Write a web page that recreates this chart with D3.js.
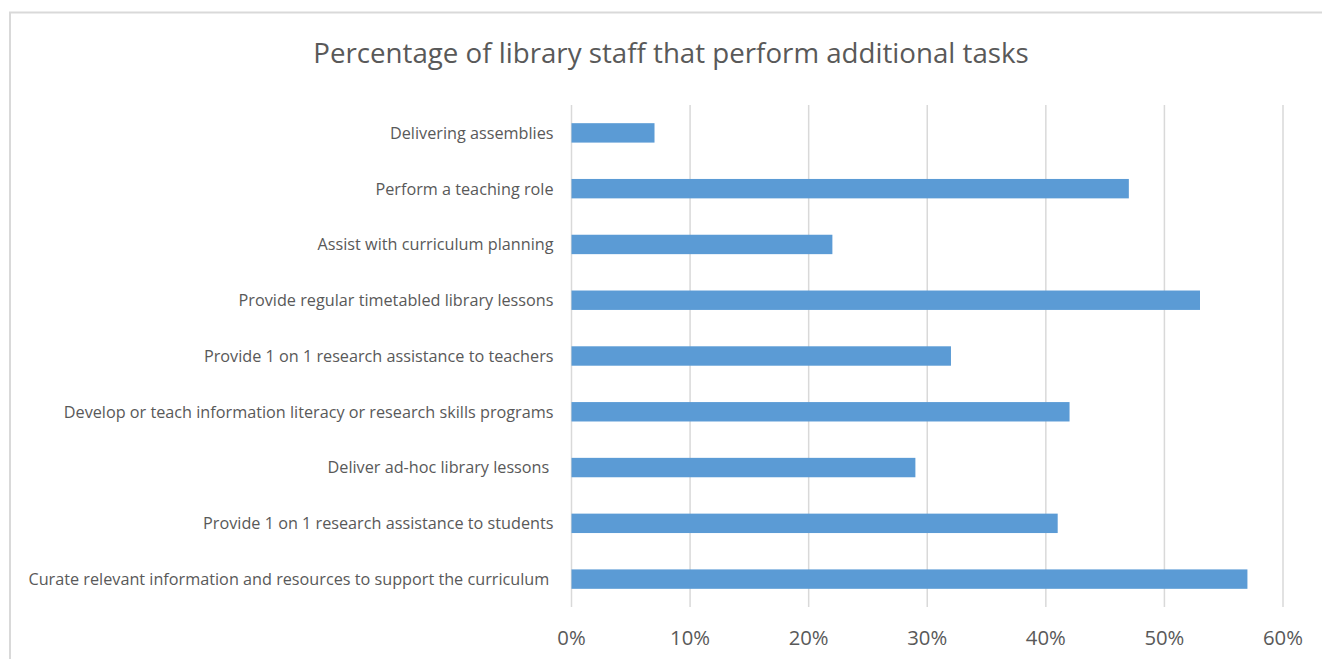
<!DOCTYPE html>
<html>
<head>
<meta charset="utf-8">
<script src="https://cdn.jsdelivr.net/npm/d3@7"></script>
<style>
  html, body { margin: 0; padding: 0; background: #fff; }
  svg { display: block; }
  text { font-family: "Open Sans", "Noto Sans", sans-serif; fill: #595959; }
</style>
</head>
<body>
<script>
// Tasks, listed top to bottom as they appear on the chart
const tasks = [
  "Delivering assemblies",
  "Perform a teaching role",
  "Assist with curriculum planning",
  "Provide regular timetabled library lessons",
  "Provide 1 on 1 research assistance to teachers",
  "Develop or teach information literacy or research skills programs",
  "Deliver ad-hoc library lessons ",
  "Provide 1 on 1 research assistance to students",
  "Curate relevant information and resources to support the curriculum "
];
// Share of library staff performing each task
const shares = [0.07, 0.47, 0.22, 0.53, 0.32, 0.42, 0.29, 0.41, 0.57];
const tickValues = [0, 0.1, 0.2, 0.3, 0.4, 0.5, 0.6];
const titleText = "Percentage of library staff that perform additional tasks";

const W = 1322, H = 659;
const plot = { left: 571.5, right: 1283, top: 105, bottom: 607 };

const svg = d3.select("body").append("svg").attr("width", W).attr("height", H);

// chart frame
svg.append("rect")
  .attr("x", 10).attr("y", 12.5)
  .attr("width", W + 20).attr("height", H + 20)
  .attr("fill", "#fff").attr("stroke", "#d9d9d9").attr("stroke-width", 2);

const x = d3.scaleLinear().domain([0, 0.6]).range([plot.left, plot.right]);
const y = d3.scaleBand().domain(tasks).range([plot.top, plot.bottom])
  .paddingInner(0.652).paddingOuter(0.326);

// scale a font size so a reference string spans a given width
function fitSize(str, targetWidth, base) {
  const t = svg.append("text").attr("font-size", base).text(str);
  const w = t.node().getComputedTextLength();
  t.remove();
  return base * targetWidth / w;
}

const labelSize = fitSize(tasks[5], 490, 16);
const tickSize = fitSize("60%", 40, 18);
const titleSize = fitSize(titleText, 716, 26);

// vertical gridlines
svg.append("g").selectAll("line").data(tickValues).join("line")
  .attr("x1", d => x(d)).attr("x2", d => x(d))
  .attr("y1", plot.top).attr("y2", plot.bottom)
  .attr("stroke", "#d9d9d9").attr("stroke-width", 1.5);

// bars
svg.append("g").selectAll("rect").data(tasks).join("rect")
  .attr("x", x(0))
  .attr("y", d => y(d))
  .attr("width", (d, i) => x(shares[i]) - x(0))
  .attr("height", y.bandwidth())
  .attr("fill", "#5b9bd5");

// category labels
svg.append("g").selectAll("text").data(tasks).join("text")
  .attr("xml:space", "preserve")
  .attr("x", 553.5)
  .attr("y", d => y(d) + y.bandwidth() / 2)
  .attr("dy", "0.36em")
  .attr("text-anchor", "end")
  .attr("font-size", labelSize)
  .text(d => d);

// x-axis tick labels
const fmt = d3.format(".0%");
svg.append("g").selectAll("text").data(tickValues).join("text")
  .attr("x", d => x(d))
  .attr("y", 645)
  .attr("text-anchor", "middle")
  .attr("font-size", tickSize)
  .text(d => fmt(d));

// title
svg.append("text")
  .attr("x", 671).attr("y", 63)
  .attr("text-anchor", "middle")
  .attr("font-size", titleSize)
  .text(titleText);
</script>
</body>
</html>
